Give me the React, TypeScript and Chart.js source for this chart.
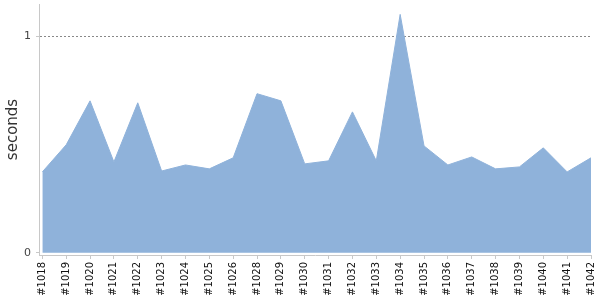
import React, { useEffect, useRef } from "react";
import { Chart, registerables } from "chart.js";

Chart.register(...registerables);

const categories = [
  "#1018", "#1019", "#1020", "#1021", "#1022", "#1023", "#1024", "#1025",
  "#1026", "#1028", "#1029", "#1030", "#1031", "#1032", "#1033", "#1034",
  "#1035", "#1036", "#1037", "#1038", "#1039", "#1040", "#1041", "#1042",
];

const seconds = [
  0.373, 0.498, 0.701, 0.419, 0.692, 0.377, 0.405, 0.387,
  0.438, 0.734, 0.701, 0.410, 0.424, 0.650, 0.424, 1.100,
  0.493, 0.405, 0.442, 0.387, 0.396, 0.484, 0.373, 0.438,
];

const yTicks = [0, 1];

export default function App() {
  const ref = useRef<HTMLCanvasElement | null>(null);

  useEffect(() => {
    document.body.style.margin = "0";
    const canvas = ref.current;
    if (!canvas) return;
    const chart = new Chart(canvas, {
      type: "line",
      data: {
        datasets: [
          {
            data: categories.map((_, i) => ({ x: i, y: seconds[i] })),
            fill: "origin",
            backgroundColor: "rgb(143,178,218)",
            borderColor: "rgb(143,178,218)",
            borderWidth: 1,
            pointRadius: 0,
            tension: 0,
          },
        ],
      },
      options: {
        responsive: false,
        animation: false,
        layout: { padding: { top: 4, right: 9, left: 0, bottom: 0 } },
        plugins: { legend: { display: false }, tooltip: { enabled: false } },
        scales: {
          x: {
            type: "linear",
            min: -0.14,
            max: categories.length - 1,
            afterBuildTicks: (axis: any) => {
              axis.ticks = categories.map((_, i) => ({ value: i }));
            },
            afterFit: (scale: any) => {
              scale.height = 45;
              scale.paddingLeft = 0;
              scale.paddingRight = 0;
            },
            ticks: {
              autoSkip: false,
              minRotation: 90,
              maxRotation: 90,
              padding: 3,
              color: "#111",
              font: { family: "DejaVu Sans", size: 10 },
              callback: (v: any) => categories[Math.round(Number(v))] ?? "",
            },
            grid: {
              drawOnChartArea: false,
              drawTicks: true,
              tickLength: 4,
              tickColor: "#c8c8c8",
            },
            border: { color: "#c8c8c8", width: 1 },
          },
          y: {
            min: -0.0106,
            max: 1.148,
            afterBuildTicks: (axis: any) => {
              axis.ticks = yTicks.map((v) => ({ value: v }));
            },
            afterFit: (scale: any) => {
              scale.width = 39;
              scale.paddingTop = 0;
              scale.paddingBottom = 0;
            },
            ticks: {
              padding: 5,
              color: "#444",
              font: { family: "DejaVu Sans", size: 11 },
              callback: (v: any) => String(v),
            },
            grid: {
              color: (ctx: any) => (ctx.tick && ctx.tick.value === 1 ? "#888" : "rgba(0,0,0,0)"),
              tickColor: "#c8c8c8",
              tickLength: 3,
              tickBorderDash: [],
            } as any,
            border: { color: "#c8c8c8", width: 1, dash: [2, 2] } as any,
            title: {
              display: true,
              text: "seconds",
              color: "#333",
              font: { family: "DejaVu Sans", size: 15 },
              padding: { top: 4, bottom: 0 },
            },
          },
        },
      },
    } as any);
    return () => chart.destroy();
  }, []);

  return (
    <div style={{ width: 600, height: 300 }}>
      <canvas ref={ref} width={600} height={300} />
    </div>
  );
}
